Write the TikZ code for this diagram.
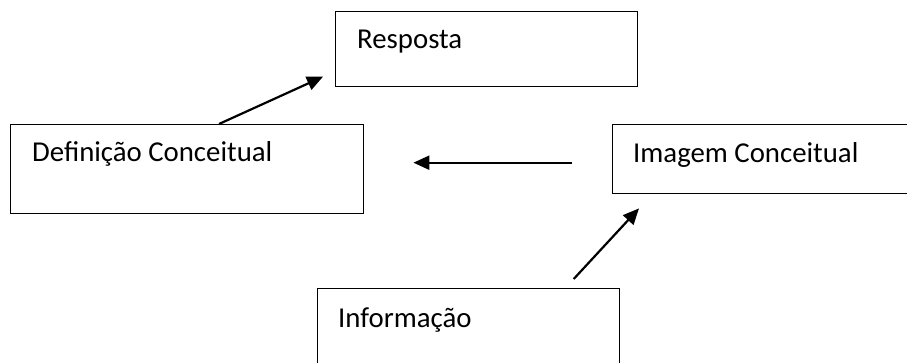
\documentclass[tikz,border=0pt]{standalone}
\usepackage{fontspec}
\setmainfont{Carlito}
\usetikzlibrary{arrows.meta,calc}
\begin{document}
\begin{tikzpicture}[x=1pt,y=1pt,
  boxnode/.style={draw=black,line width=1.4pt,rectangle,inner sep=0pt,anchor=north west},
  lbl/.style={anchor=base west,inner sep=0pt,font=\fontsize{28.8}{33}\selectfont},
  conn/.style={line width=2.2pt,-{Triangle[length=16pt,width=14pt]}}]
\useasboundingbox[fill=white] (0,0) rectangle (907,-363);
\node[boxnode,minimum width=302pt,minimum height=75pt] (resp) at (335,-11) {};
\node[boxnode,minimum width=353pt,minimum height=89pt] (def) at (10,-124) {};
\node[boxnode,minimum width=330pt,minimum height=69pt] (img) at (612,-124) {};
\node[boxnode,minimum width=302pt,minimum height=90pt] (inf) at (317,-288) {};
\node[lbl] (tresp) at (357,-49) {Resposta};
\node[lbl] (tdef) at (32,-162) {Definição Conceitual};
\node[lbl] (timg) at (633,-163) {Imagem Conceitual};
\node[lbl] (tinf) at (338,-327) {Informação};
\coordinate (a1s) at ($(def.north west)+(209,0)$);
\coordinate (a1e) at ($(resp.west)+(-12,-27.5)$);
\coordinate (a2s) at ($(img.west)+(-40,-3.5)$);
\coordinate (a2e) at ($(def.east)+(49,6.5)$);
\coordinate (a3s) at ($(inf.north)+(105,9)$);
\coordinate (a3e) at ($(img.south west)+(27,-14)$);
\draw[conn] (a1s) -- (a1e);
\draw[conn] (a2s) -- (a2e);
\draw[conn] (a3s) -- (a3e);
\end{tikzpicture}
\end{document}
